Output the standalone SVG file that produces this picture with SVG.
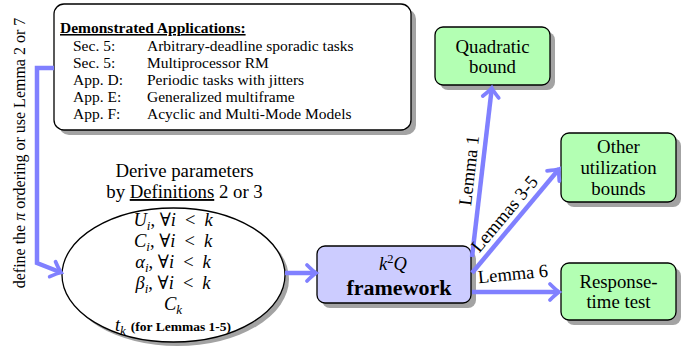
<svg xmlns="http://www.w3.org/2000/svg" width="692" height="346" viewBox="0 0 692 346" font-family="'Liberation Serif','Times New Roman','DejaVu Serif',serif">
<style>
text{font-family:"Liberation Serif","Times New Roman","DejaVu Serif",serif;fill:#000}
.shadow{fill:#a3a3a3}
.box{stroke:#000;stroke-width:1.3}
.green{fill:#b3ffb3}
.blue{fill:#ccccff}
.white{fill:#fff}
.node{font-size:18.8px;text-anchor:middle}
.app{font-size:15.5px}
.math{font-size:18.5px;text-anchor:middle}
.it{font-style:italic}
.sub{font-size:13px;font-style:italic}
.lbl{font-size:18.5px;text-anchor:middle}
.conn{fill:none;stroke:#8080ff;stroke-width:4.5;marker-end:url(#arr)}
</style>
<defs>
<marker id="arr" markerUnits="userSpaceOnUse" markerWidth="24" markerHeight="24" viewBox="-12 -12 24 24" refX="0" refY="0" orient="auto">
<path d="M-9,-8 Q-3,-2 0,0 Q-3,2 -9,8" fill="none" stroke="#8080ff" stroke-width="3.8" stroke-linecap="round"/>
</marker>
</defs>

<text transform="translate(24.5,153) rotate(-90)" font-size="16" text-anchor="middle">define the <tspan class="it">π</tspan> ordering or use Lemma 2 or 7</text>

<g id="apps">
<rect class="shadow" x="59" y="9" width="357" height="126" rx="10"/>
<rect class="box white" x="54" y="4" width="357" height="126" rx="10"/>
<text x="60" y="33" font-size="15.5" font-weight="bold" text-decoration="underline">Demonstrated Applications:</text>
<text x="73" y="51" class="app">Sec. 5:</text><text x="147" y="51" class="app">Arbitrary-deadline sporadic tasks</text>
<text x="73" y="68" class="app">Sec. 5:</text><text x="147" y="68" class="app">Multiprocessor RM</text>
<text x="73" y="85" class="app">App. D:</text><text x="147" y="85" class="app">Periodic tasks with jitters</text>
<text x="73" y="102" class="app">App. E:</text><text x="147" y="102" class="app">Generalized multiframe</text>
<text x="73" y="119" class="app">App. F:</text><text x="147" y="119" class="app">Acyclic and Multi-Mode Models</text>
</g>

<g id="params">
<text x="184.5" y="177" class="node" font-size="18">Derive parameters</text>
<text x="184.5" y="198" class="node" font-size="18">by <tspan text-decoration="underline">Definitions</tspan> 2 or 3</text>
<ellipse class="shadow" cx="177.5" cy="279" rx="111.5" ry="67"/>
<ellipse class="box white" cx="173.5" cy="275" rx="111.5" ry="67"/>
<text x="173" y="226" class="math"><tspan class="it">U</tspan><tspan class="sub" dy="4">i</tspan><tspan dy="-4">, ∀</tspan><tspan class="it">i</tspan><tspan dx="9">&lt;</tspan><tspan class="it" dx="9">k</tspan></text>
<text x="173" y="247" class="math"><tspan class="it">C</tspan><tspan class="sub" dy="4">i</tspan><tspan dy="-4">, ∀</tspan><tspan class="it">i</tspan><tspan dx="9">&lt;</tspan><tspan class="it" dx="9">k</tspan></text>
<text x="173" y="268" class="math"><tspan class="it">α</tspan><tspan class="sub" dy="4">i</tspan><tspan dy="-4">, ∀</tspan><tspan class="it">i</tspan><tspan dx="9">&lt;</tspan><tspan class="it" dx="9">k</tspan></text>
<text x="173" y="289" class="math"><tspan class="it">β</tspan><tspan class="sub" dy="4">i</tspan><tspan dy="-4">, ∀</tspan><tspan class="it">i</tspan><tspan dx="9">&lt;</tspan><tspan class="it" dx="9">k</tspan></text>
<text x="173" y="310" class="math" font-size="19"><tspan class="it">C</tspan><tspan class="sub" dy="4">k</tspan></text>
<text x="173" y="331" class="math"><tspan class="it">t</tspan><tspan class="sub" dy="4">k</tspan><tspan dy="-4" font-size="13.5" font-weight="bold" dx="5">(for Lemmas 1-5)</tspan></text>
</g>

<g id="framework">
<rect class="shadow" x="322" y="251" width="154" height="57" rx="8"/>
<rect class="box blue" x="317" y="246" width="154" height="57" rx="8"/>
<text x="393" y="270" class="math" font-size="19"><tspan class="it">k</tspan><tspan font-size="12.5" dy="-7">2</tspan><tspan class="it" dy="7">Q</tspan></text>
<text x="399" y="295" text-anchor="middle" font-size="22" font-weight="bold">framework</text>
</g>

<g id="quadratic">
<rect class="shadow" x="440" y="32" width="115" height="58" rx="8"/>
<rect class="box green" x="435" y="27" width="115" height="58" rx="8"/>
<text x="492.5" y="53" class="node">Quadratic</text>
<text x="492.5" y="73" class="node">bound</text>
</g>

<g id="other">
<rect class="shadow" x="566" y="138" width="115" height="69" rx="8"/>
<rect class="box green" x="561" y="133" width="115" height="69" rx="8"/>
<text x="618.5" y="153" class="node">Other</text>
<text x="618.5" y="174" class="node">utilization</text>
<text x="618.5" y="195" class="node">bounds</text>
</g>

<g id="response">
<rect class="shadow" x="566" y="268" width="115" height="57" rx="8"/>
<rect class="box green" x="561" y="263" width="115" height="57" rx="8"/>
<text x="618.5" y="288" class="node">Response-</text>
<text x="618.5" y="308" class="node">time test</text>
</g>

<g id="connectors">
<path class="conn" d="M54,68 H37 V263 L61,272.5"/>
<path class="conn" d="M285,273 H316"/>
<path class="conn" d="M472,257 L491.8,88"/>
<path class="conn" d="M472,273 L559,169"/>
<path class="conn" d="M472,292 H559"/>
<text class="lbl" transform="translate(482,172) rotate(-83.3)" x="0" y="-7">Lemma 1</text>
<text class="lbl" transform="translate(514.4,222.4) rotate(-50)" x="0" y="-7">Lemmas 3-5</text>
<text class="lbl" transform="translate(513.5,280) rotate(-5.5)" x="0" y="0">Lemma 6</text>
</g>
</svg>
